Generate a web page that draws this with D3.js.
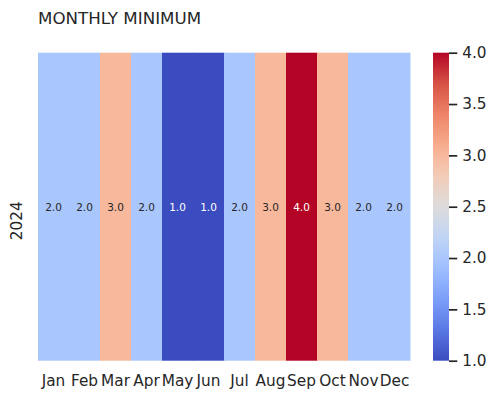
<!DOCTYPE html>
<html>
<head>
<meta charset="utf-8">
<script src="https://cdn.jsdelivr.net/npm/d3@7"></script>
<style>
  body { margin: 0; background: #fff; }
  text { font-family: 'DejaVu Sans', sans-serif; fill: #262626; }
</style>
</head>
<body>
<div id="graf"></div>
<script>
// I. Datos
const meses = ['Jan', 'Feb', 'Mar', 'Apr', 'May', 'Jun', 'Jul', 'Aug', 'Sep', 'Oct', 'Nov', 'Dec']
const anios = ['2024']
const minimos = [2, 2, 3, 2, 1, 1, 2, 3, 4, 3, 2, 2]
const ticksBarra = [1.0, 1.5, 2.0, 2.5, 3.0, 3.5, 4.0]
const titulo = 'MONTHLY MINIMUM'

// coolwarm (muestras)
const cwT = [0, 0.1, 0.2, 0.3, 1 / 3, 0.4, 0.5, 0.6, 2 / 3, 0.7, 0.8, 0.9, 1]
const cwC = ['#3b4cc0', '#5a78e4', '#7b9ff9', '#9ebeff', '#aac7fd', '#c0d4f5', '#dddcdc',
             '#f2cbb7', '#f7b89c', '#f7ac8e', '#ee8468', '#d65244', '#b40426']

// II. Configuración
const ancho_total = 496, alto_total = 399
const m = { left: 38, top: 52.7, right: 410, bottom: 360.7 }

const svg = d3.select('#graf').append('svg')
  .attr('width', ancho_total)
  .attr('height', alto_total)

const color = d3.scaleLinear()
  .domain(cwT.map(t => 1 + 3 * t))
  .range(cwC)
  .interpolate(d3.interpolateRgb)
  .clamp(true)

const x = d3.scaleBand().domain(meses).range([m.left, m.right])
const y = d3.scaleBand().domain(anios).range([m.top, m.bottom])

// título
svg.append('text')
  .attr('x', m.left).attr('y', 24)
  .style('font-size', '16.7px')
  .text(titulo)

// celdas
const datos = meses.map((mes, i) => ({ mes, anio: anios[0], v: minimos[i] }))

svg.selectAll('rect.celda')
  .data(datos)
  .enter().append('rect')
  .attr('class', 'celda')
  .attr('x', d => x(d.mes))
  .attr('y', d => y(d.anio))
  .attr('width', x.bandwidth() + 0.5)
  .attr('height', y.bandwidth())
  .attr('fill', d => color(d.v))

// anotaciones
svg.selectAll('text.annot')
  .data(datos)
  .enter().append('text')
  .attr('class', 'annot')
  .attr('x', d => x(d.mes) + x.bandwidth() / 2)
  .attr('y', d => y(d.anio) + y.bandwidth() / 2)
  .attr('text-anchor', 'middle')
  .attr('dominant-baseline', 'central')
  .style('font-size', '10.5px')
  .style('fill', d => {
    const c = d3.rgb(color(d.v))
    const lum = 0.2126 * c.r + 0.7152 * c.g + 0.0722 * c.b
    return lum / 255 > 0.408 ? '#262626' : '#ffffff'
  })
  .text(d => d3.format('.1f')(d.v))

// eje x (sin marcas)
const ejeX = svg.append('g')
  .attr('transform', `translate(0,${m.bottom})`)
  .call(d3.axisBottom(x).tickSize(0).tickPadding(0))
ejeX.select('.domain').remove()
ejeX.selectAll('text')
  .attr('y', 0).attr('dy', null)
  .attr('transform', 'translate(0,25.5)')
  .style('font-size', '15.3px')
  .style('font-family', "'DejaVu Sans', sans-serif")
  .attr('fill', '#262626')

// eje y
svg.selectAll('text.ylab')
  .data(anios)
  .enter().append('text')
  .attr('class', 'ylab')
  .attr('transform', d => `translate(21.5,${y(d) + y.bandwidth() / 2 + 14}) rotate(-90)`)
  .attr('text-anchor', 'middle')
  .style('font-size', '15.3px')
  .text(d => d)

// barra de color
const cb = { x: 433, w: 16 }
const defs = svg.append('defs')
const grad = defs.append('linearGradient')
  .attr('id', 'grad')
  .attr('x1', 0).attr('y1', 1).attr('x2', 0).attr('y2', 0)
d3.range(0, 1.0001, 0.02).forEach(t => {
  grad.append('stop')
    .attr('offset', t)
    .attr('stop-color', color(1 + 3 * t))
})

const yc = d3.scaleLinear().domain([1, 4]).range([m.bottom, m.top])

svg.append('rect')
  .attr('x', cb.x).attr('y', m.top)
  .attr('width', cb.w).attr('height', m.bottom - m.top)
  .attr('fill', 'url(#grad)')

const ejeC = svg.append('g')
  .attr('transform', `translate(${cb.x + cb.w},0)`)
  .call(d3.axisRight(yc).tickValues(ticksBarra).tickFormat(d3.format('.1f')).tickSize(8.3).tickPadding(4.9))
ejeC.select('.domain').remove()
ejeC.selectAll('line').attr('stroke', '#262626').attr('stroke-width', 1.7)
ejeC.selectAll('text')
  .style('font-size', '15.3px')
  .style('font-family', "'DejaVu Sans', sans-serif")
  .attr('fill', '#262626')
</script>
</body>
</html>
